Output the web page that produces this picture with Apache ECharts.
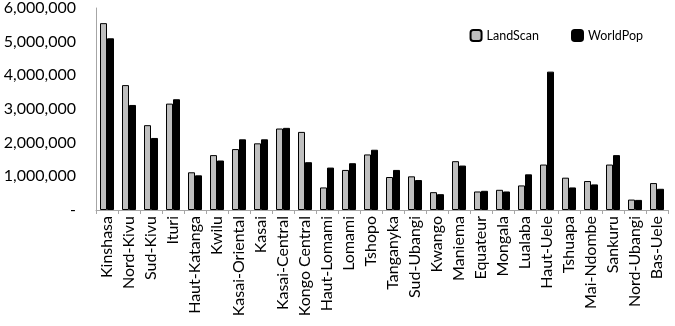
<!DOCTYPE html>
<html>
<head>
<meta charset="utf-8">
<script src="https://cdn.jsdelivr.net/npm/echarts@6/dist/echarts.min.js"></script>
<style>
  html, body { margin: 0; padding: 0; background: #fff; }
  #main { width: 675px; height: 326px; }
</style>
</head>
<body>
<div id="main"></div>
<script>
// provinces, in the order shown
var provinces = ['Kinshasa', 'Nord-Kivu', 'Sud-Kivu', 'Ituri', 'Haut-Katanga', 'Kwilu',
  'Kasai-Oriental', 'Kasai', 'Kasai-Central', 'Kongo Central', 'Haut-Lomami', 'Lomami',
  'Tshopo', 'Tanganyka', 'Sud-Ubangi', 'Kwango', 'Maniema', 'Equateur', 'Mongala',
  'Lualaba', 'Haut-Uele', 'Tshuapa', 'Mai-Ndombe', 'Sankuru', 'Nord-Ubangi', 'Bas-Uele'];

var landScan = [5550000, 3710000, 2520000, 3160000, 1120000, 1630000,
  1810000, 1980000, 2420000, 2320000, 670000, 1190000,
  1650000, 980000, 1000000, 530000, 1450000, 550000, 600000,
  730000, 1350000, 960000, 860000, 1350000, 310000, 800000];

var worldPop = [5100000, 3120000, 2140000, 3290000, 1030000, 1470000,
  2100000, 2100000, 2440000, 1420000, 1260000, 1390000,
  1790000, 1190000, 890000, 470000, 1320000, 570000, 550000,
  1060000, 4110000, 670000, 760000, 1630000, 300000, 630000];

var yTicks = [0, 1000000, 2000000, 3000000, 4000000, 5000000, 6000000];

var font = 'Lato, "Open Sans", sans-serif';

var chart = echarts.init(document.getElementById('main'));
chart.setOption({
  animation: false,
  textStyle: { fontFamily: font },
  grid: { left: 96, right: 7, top: 8, bottom: 116 },
  legend: {
    top: 24, right: 27,
    itemWidth: 11, itemHeight: 11, itemGap: 32,
    textStyle: { fontSize: 12.5, color: '#000', fontFamily: font },
    data: ['LandScan', 'WorldPop']
  },
  xAxis: {
    type: 'category',
    data: provinces,
    axisLine: { lineStyle: { color: '#a6a6a6' } },
    axisTick: { show: true, length: 4, alignWithLabel: false, lineStyle: { color: '#a6a6a6' } },
    axisLabel: { rotate: 90, interval: 0, fontSize: 16, color: '#000', margin: 6 }
  },
  yAxis: {
    type: 'value',
    min: yTicks[0],
    max: yTicks[yTicks.length - 1],
    interval: 1000000,
    splitLine: { show: false },
    axisLine: { show: true, lineStyle: { color: '#a6a6a6' } },
    axisTick: { show: false },
    axisLabel: {
      fontSize: 16, color: '#000', margin: 20,
      formatter: function (v) { return v === 0 ? '-' : v.toLocaleString('en-US'); }
    }
  },
  series: [
    {
      name: 'LandScan', type: 'bar', data: landScan,
      barWidth: 7, barGap: '0%',
      itemStyle: { color: '#bfbfbf', borderColor: '#000', borderWidth: 1 }
    },
    {
      name: 'WorldPop', type: 'bar', data: worldPop,
      barWidth: 7,
      itemStyle: { color: '#000', borderColor: '#000', borderWidth: 1 }
    }
  ]
});
</script>
</body>
</html>
